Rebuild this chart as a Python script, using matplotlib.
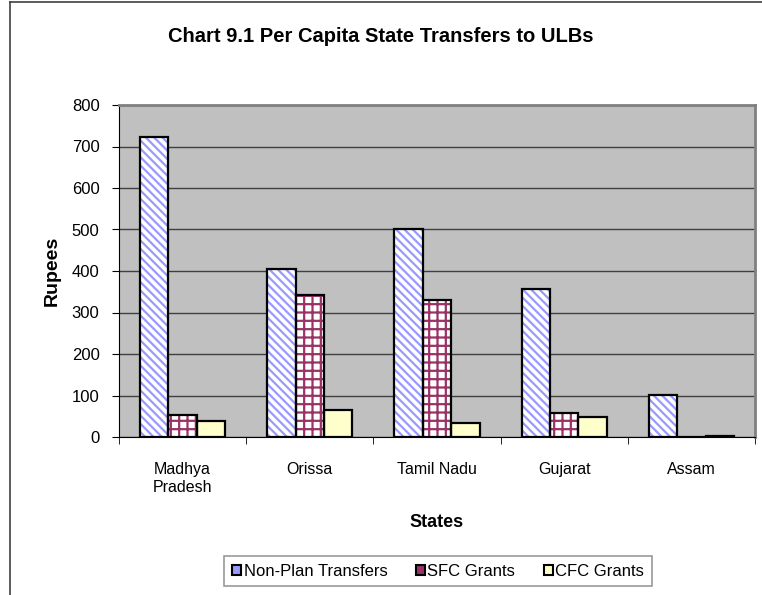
import matplotlib.pyplot as plt
import numpy as np
from matplotlib.patches import Patch
from matplotlib.lines import Line2D

plt.rcParams['font.family'] = ['Liberation Sans', 'DejaVu Sans']
plt.rcParams['hatch.linewidth'] = 1.6

# Data
states = ['Madhya\nPradesh', 'Orissa', 'Tamil Nadu', 'Gujarat', 'Assam']
non_plan = [723, 406, 502, 357, 102]
sfc = [53, 342, 329, 57, 0]
cfc = [38, 64, 34, 49, 3]
series_names = ['Non-Plan Transfers', 'SFC Grants', 'CFC Grants']

fig = plt.figure(figsize=(7.62, 5.95), dpi=100)
ax = fig.add_axes([119 / 762, 1 - 437 / 595, 636 / 762, 332 / 595])
ax.set_facecolor('#c0c0c0')

x = np.arange(len(states))
w = 0.223
styles = [
    dict(face='white', hatch='\\\\\\\\', hcol='#9999ff'),
    dict(face='white', hatch='++', hcol='#993366'),
    dict(face='#ffffcc', hatch=None, hcol='#ffffcc'),
]
for i, vals in enumerate([non_plan, sfc, cfc]):
    st = styles[i]
    pos = x + (i - 1) * w
    ax.bar(pos, vals, w, color=st['face'], hatch=st['hatch'],
           edgecolor=st['hcol'], linewidth=0, zorder=3)
    ax.bar(pos, vals, w, color='none', edgecolor='black', linewidth=1.6, zorder=4)

ax.set_xlim(-0.5, len(states) - 0.5)
ax.set_ylim(0, 800)
ax.set_yticks(np.arange(0, 801, 100))
ax.yaxis.grid(True, color='#404040', linewidth=1)
ax.set_axisbelow(True)

ax.set_xticks(x)
ax.set_xticklabels(states, fontsize=11.5, linespacing=1.25)
ax.tick_params(axis='x', length=0, pad=18)
ax.set_xticks(np.arange(-0.5, len(states)), minor=True)
ax.tick_params(axis='x', which='minor', length=5, color='black')
ax.tick_params(axis='y', length=5, labelsize=12, pad=9)

for s in ['top', 'right']:
    ax.spines[s].set_color('#808080')
    ax.spines[s].set_linewidth(2)
ax.spines['left'].set_color('black')
ax.spines['bottom'].set_color('black')

ax.set_xlabel('States', fontsize=13, fontweight='bold', labelpad=14)
ax.set_ylabel('Rupees', fontsize=14, fontweight='bold', labelpad=8)
fig.text(0.5, 1 - 37 / 595, 'Chart 9.1 Per Capita State Transfers to ULBs',
         ha='center', va='center', fontsize=14.5, fontweight='bold')

handles = [Patch(facecolor=s['face'] if s['hatch'] is None else s['hcol'],
                 edgecolor='black', linewidth=1.5) for s in styles]
leg = fig.legend(handles, series_names, loc='center',
                 bbox_to_anchor=(438 / 762, 1 - 571 / 595), ncol=3,
                 fontsize=12, frameon=True, fancybox=False, handlelength=0.55,
                 handleheight=0.55, handletextpad=0.15, columnspacing=1.7,
                 borderpad=0.45)
leg.get_frame().set_edgecolor('#808080')
leg.get_frame().set_linewidth(1.2)

# outer chart border (cropped at right and bottom)
fig.add_artist(Line2D([10 / 762, 10 / 762], [0, 1 - 2 / 595],
                      transform=fig.transFigure, color='#404040', linewidth=1.2))
fig.add_artist(Line2D([10 / 762, 1], [1 - 2 / 595, 1 - 2 / 595],
                      transform=fig.transFigure, color='#404040', linewidth=1.2))

fig.savefig('out.png', dpi=100)
